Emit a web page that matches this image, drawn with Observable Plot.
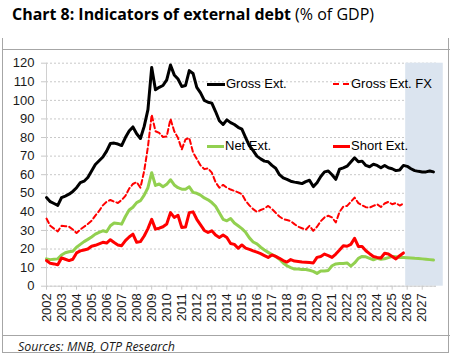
<!DOCTYPE html>
<html>
<head>
<meta charset="utf-8">
<script src="https://cdn.jsdelivr.net/npm/d3@7"></script>
<script src="https://cdn.jsdelivr.net/npm/@observablehq/plot@0.6"></script>
<style>
  html, body { margin: 0; padding: 0; background: #fff; }
  #wrap { position: relative; width: 451px; height: 362px; overflow: hidden; background: #fff; }
  #title { position: absolute; left: 12px; top: 3px; white-space: nowrap; font-family: "Open Sans", Lato, sans-serif; color: #000; }
  #title b { font-size: 16px; font-weight: 700; }
  #title span { font-size: 14px; font-weight: 400; }
  .frame { position: absolute; left: 2px; top: 38px; width: 445px; height: 314px; border-left: 1.5px solid #a6a6a6; border-right: 1.5px solid #a6a6a6; border-bottom: 1.5px solid #a6a6a6; }
  .hline { position: absolute; left: 2px; width: 448px; height: 0; border-top: 1.5px solid #a6a6a6; }
  #chart { position: absolute; left: 0; top: 50px; }
  #caption { position: absolute; left: 18px; top: 337px; font-family: "Open Sans", Lato, sans-serif; font-style: italic; font-size: 12.8px; color: #1a1a1a; white-space: nowrap; }
  .leg { position: absolute; font-family: "Liberation Sans", Arial, sans-serif; font-size: 13px; color: #000; white-space: nowrap; line-height: 15px; }
  .sw { position: absolute; height: 0; }
</style>
</head>
<body>
<div id="wrap">
  <div id="title"><b id="tb">Chart 8: Indicators of external debt</b> <span id="tn">(% of GDP)</span></div>
  <div class="frame"></div>
  <div class="hline" style="top:49px"></div>
  <div class="hline" style="top:335px"></div>
  <div id="chart"></div>
  <div id="caption"><span id="cap">Sources: MNB, OTP Research</span></div>
  <div id="legend"></div>
</div>
<script>
// ---- data (quarterly, from 2002 Q1) ----
const startYear = 2002;
const yearTicks = d3.range(2002, 2028);
const yTicks = d3.range(0, 121, 10);
const forecastPeriod = [2025.9, 2028.4];

const seriesNames = ["Gross Ext.", "Gross Ext. FX", "Net Ext.", "Short Ext."];

const grossExt = [
  47.7, 45.5, 44.5, 43.5, 47.7, 48.5, 49.5, 51, 53, 55.7,
  56.5, 58.5, 62, 65.5, 67.5, 69.5, 72.7, 76.8, 77, 76.5,
  75.7, 80, 83.5, 85.7, 82, 79.5, 86, 95, 117.7, 105.7,
  107, 108, 111, 119, 113.7, 111.5, 107.5, 108, 116, 114.5,
  107, 104, 100, 99, 98.5, 94, 89, 87, 89.5, 88,
  87, 85.5, 84.5, 80, 75.5, 73, 70, 68.5, 67.3, 67,
  65, 63.5, 60, 58.3, 57.5, 56.5, 56, 55.7, 55.2, 56.3,
  57, 53.6, 55.7, 59, 61.5, 62, 60, 57.5, 63, 63.7,
  64.6, 66.8, 69.1, 67, 67.3, 65, 64.3, 65.6, 65, 63.7,
  65, 63.7, 63.2, 62.2, 62.5, 65, 64.5, 63.2, 62.2, 61.8,
  61.5, 61.5, 62, 61.5
];
const grossExtFX = [
  36.4, 32.5, 31, 29.5, 32.5, 32.3, 32, 30.5, 28.6, 30.5,
  32, 33.5, 35.2, 38, 40.5, 43.5, 45.4, 46.4, 45.5, 44.8,
  46.4, 48.6, 52.5, 55, 56, 53, 62, 75, 92.3, 83.4,
  82.5, 80.3, 80.6, 90, 83.4, 79.8, 73.6, 79, 79.8, 72,
  68.5, 65, 63, 63.4, 61.1, 56, 53, 54.5, 53, 52,
  51.3, 50.5, 49.5, 46, 43.5, 41.5, 40, 41, 41.8, 43.2,
  41.5, 39.5, 37.5, 36.1, 35.6, 35, 33.4, 32, 31.2, 30.4,
  32.5, 29.8, 32, 35, 37, 37.9, 37, 34.3, 40, 42.8,
  43.2, 45.4, 47.7, 44.7, 43.5, 42.5, 42.3, 43.2, 44.1, 42.6,
  44.5, 45.4, 44.1, 44.8, 43.4, 44.5
];
const netExt = [
  14.7, 14.3, 14.5, 14.7, 16.8, 18, 18.5, 18.8, 21, 22.5,
  24, 25.2, 26.5, 28, 29, 29.8, 29.3, 32.5, 34, 33.8,
  33.4, 37.5, 41, 42.5, 45, 46, 49, 53, 61.1, 54.2,
  55, 53.5, 54.8, 57.3, 54.5, 53, 52.2, 52.2, 53.5, 50.5,
  50, 49, 47.5, 46.5, 45, 43, 39.5, 36, 35.2, 36.4,
  34, 32.5, 31, 29, 26, 23.8, 22.8, 21, 19.5, 18.2,
  17, 16, 14.5, 12.5, 11, 10, 9.2, 9.2, 9.0, 9.0,
  8.6, 8.0, 6.9, 8.2, 8.2, 8.5, 11, 12, 12.2, 12.2,
  12.5, 10.8, 12.5, 15, 16, 15.8, 15, 14.2, 15, 14.5,
  14.8, 15.4, 16, 15.8, 15.5, 15.4, 15.3, 15.2, 15, 14.9,
  14.7, 14.5, 14.3, 14.1
];
const shortExt = [
  13.8, 12.3, 12, 11.5, 15.2, 14.5, 13.8, 14.5, 17.9, 19,
  19.5, 20, 21.5, 22, 22.8, 23.6, 23.2, 25, 23.5, 22.2,
  21.8, 24.5, 26.5, 28, 23.6, 24, 27, 31, 36, 30.7,
  31.2, 32, 33.5, 39.6, 37, 38.2, 31.6, 31.8, 39.6, 40,
  36, 33, 30, 28.9, 29.8, 27.5, 26.2, 27.5, 26.2, 23,
  22.5, 20.4, 22.2, 20.5, 19.8, 19, 18.3, 17.5, 16.5, 15.5,
  16.8, 16, 15, 13.8, 13, 14.3, 13.5, 13.3, 13, 12.9,
  12.7, 12.5, 15.5, 16, 17.3, 16.5, 15.5, 17.3, 19.5, 21.8,
  21.5, 22.5, 25.8, 21.4, 21.4, 19.1, 17.5, 16, 15.5, 15.2,
  17.7, 17.3, 16, 14.7, 16.4, 17.9
];

// ---- build tables ----
const toRows = (arr) => arr.map((v, i) => ({t: startYear + i / 4, v}));
const rowsGross = toRows(grossExt);
const rowsFX = toRows(grossExtFX);
const rowsNet = toRows(netExt);
const rowsShort = toRows(shortExt);

const colors = {gross: "#000000", fx: "#ff0000", net: "#92d050", short: "#ff0000"};

const chart = Plot.plot({
  width: 451,
  height: 285,
  marginLeft: 46,
  marginRight: 15,
  marginTop: 12.7,
  marginBottom: 49.3,
  style: {fontFamily: "'Liberation Sans', Arial, sans-serif", fontSize: "13px", color: "#1a1a1a", background: "transparent", overflow: "visible"},
  x: {domain: [2002, 2027.95]},
  y: {domain: [0, 120]},
  marks: [
    Plot.gridY(yTicks, {stroke: "#c8c8c8", strokeOpacity: 1, strokeDasharray: "2,2"}),
    Plot.rect([forecastPeriod], {x1: d => d[0], x2: d => d[1], y1: 0, y2: 120, fill: "#dbe4ef"}),
    Plot.ruleX([2002], {stroke: "#d0d0d0", strokeWidth: 1}),
    Plot.ruleY([0], {stroke: "#d0d0d0", strokeWidth: 1}),
    Plot.axisY(yTicks, {tickSize: 5, tickPadding: 7, stroke: "#c8c8c8", fill: "#1a1a1a", fontSize: 13, label: null}),
    Plot.axisX(yearTicks, {tickSize: 4, tickPadding: 3, tickRotate: -90, tickFormat: d => String(d), stroke: "#c8c8c8", fill: "#1a1a1a", fontSize: 13, label: null}),
    Plot.line(rowsNet, {x: "t", y: "v", stroke: colors.net, strokeWidth: 3, strokeLinejoin: "round"}),
    Plot.line(rowsFX, {x: "t", y: "v", stroke: colors.fx, strokeWidth: 2, strokeDasharray: "5,3"}),
    Plot.line(rowsShort, {x: "t", y: "v", stroke: colors.short, strokeWidth: 3, strokeLinejoin: "round"}),
    Plot.line(rowsGross, {x: "t", y: "v", stroke: colors.gross, strokeWidth: 3, strokeLinejoin: "round"})
  ]
});
document.getElementById("chart").appendChild(chart);

// ---- fit header/caption text widths to the reference ----
function fitWidth(id, target) {
  const el = document.getElementById(id);
  const fs = parseFloat(getComputedStyle(el).fontSize);
  const w = el.getBoundingClientRect().width;
  if (w > 0) el.style.fontSize = (fs * target / w).toFixed(2) + "px";
}
fitWidth("tb", 279);
fitWidth("tn", 79);
fitWidth("cap", 157);

// ---- legend (HTML overlay) ----
const legendItems = [
  {name: seriesNames[0], color: colors.gross, dash: false, w: 3, sx: 207, sw: 18, tx: 226, y: 84},
  {name: seriesNames[1], color: colors.fx, dash: true, w: 2, sx: 333, sw: 16, tx: 351, y: 84},
  {name: seriesNames[2], color: colors.net, dash: false, w: 3, sx: 207, sw: 17, tx: 225, y: 146},
  {name: seriesNames[3], color: colors.short, dash: false, w: 3, sx: 333, sw: 17, tx: 351, y: 146}
];
const leg = document.getElementById("legend");
for (const it of legendItems) {
  const s = document.createElement("div");
  s.className = "sw";
  s.style.left = it.sx + "px";
  s.style.width = it.sw + "px";
  s.style.top = (it.y - it.w / 2) + "px";
  s.style.borderTop = it.w + "px " + (it.dash ? "dashed " : "solid ") + it.color;
  leg.appendChild(s);
  const t = document.createElement("div");
  t.className = "leg";
  t.style.left = it.tx + "px";
  t.style.top = (it.y - 8) + "px";
  t.textContent = it.name;
  leg.appendChild(t);
}
</script>
</body>
</html>
